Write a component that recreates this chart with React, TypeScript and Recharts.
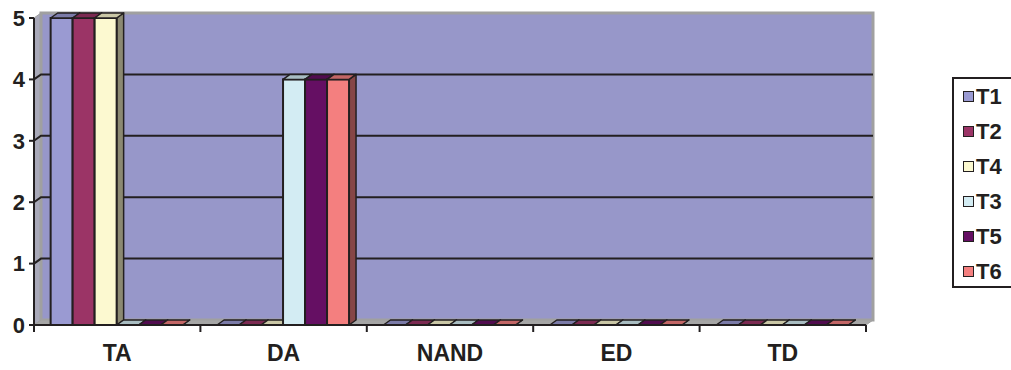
import React from 'react';
import { BarChart, Bar, XAxis, YAxis, ReferenceArea, Legend } from 'recharts';

// Categories along the x axis
const categories = ['TA', 'DA', 'NAND', 'ED', 'TD'];

// Series values, one entry per category
const t1Values = [5, 0, 0, 0, 0];
const t2Values = [5, 0, 0, 0, 0];
const t4Values = [5, 0, 0, 0, 0];
const t3Values = [0, 4, 0, 0, 0];
const t5Values = [0, 4, 0, 0, 0];
const t6Values = [0, 4, 0, 0, 0];

// Series in drawing / legend order
const seriesNames = ['T1', 'T2', 'T4', 'T3', 'T5', 'T6'];
const seriesValues = [t1Values, t2Values, t4Values, t3Values, t5Values, t6Values];
const seriesColors = ['#9a9ad2', '#9b3466', '#fcf9d0', '#d3ecf3', '#650f63', '#f47f7f'];

// Value axis ticks
const yTicks = [0, 1, 2, 3, 4, 5];

const data = categories.map((name, i) => {
  const row: Record<string, string | number> = { name };
  seriesNames.forEach((s, k) => {
    row[s] = seriesValues[k][i];
  });
  return row;
});

const INK = '#231f20';
const WALL = '#9797c9';
const FLOOR = '#a6a6a6';
const EDGE = '#a0a0a0';
const DX = 7; // depth offset to the right
const DY = 5; // depth offset upwards
const FONT = '"Liberation Sans", Arial, sans-serif';

function shade(hex: string, f: number): string {
  const n = parseInt(hex.slice(1), 16);
  const r = Math.round(((n >> 16) & 255) * f);
  const g = Math.round(((n >> 8) & 255) * f);
  const b = Math.round((n & 255) * f);
  return `rgb(${r},${g},${b})`;
}

// Back wall, side wall, floor, gridlines and category boundary ticks
const WallShape = (props: any) => {
  const { x, y, width, height } = props;
  const x0 = x;
  const x1 = x + width;
  const yTop = y;
  const yBot = y + height;
  const yMax = yTicks[yTicks.length - 1];
  const gridValues = yTicks.filter((v) => v > 0 && v < yMax);
  const nCat = categories.length;
  return (
    <g>
      <polygon
        points={`${x0},${yTop} ${x0 + DX},${yTop - DY} ${x0 + DX},${yBot - DY} ${x0},${yBot}`}
        fill="#a9a9b9"
        stroke={EDGE}
        strokeWidth={1}
      />
      <rect
        x={x0 + DX}
        y={yTop - DY}
        width={width}
        height={height}
        fill={WALL}
        stroke={EDGE}
        strokeWidth={3}
      />
      {gridValues.map((v) => {
        const yy = yBot - (height * v) / yMax;
        return (
          <polyline
            key={v}
            points={`${x0},${yy} ${x0 + DX},${yy - DY} ${x1 + DX},${yy - DY}`}
            fill="none"
            stroke={INK}
            strokeWidth={2}
          />
        );
      })}
      <polygon
        points={`${x0},${yBot} ${x0 + DX},${yBot - DY} ${x1 + DX},${yBot - DY} ${x1},${yBot}`}
        fill={FLOOR}
        stroke={EDGE}
        strokeWidth={1}
      />
      {Array.from({ length: nCat + 1 }, (_, i) => {
        const xx = x0 + (width * i) / nCat;
        return <line key={i} x1={xx} y1={yBot} x2={xx} y2={yBot + 7} stroke={INK} strokeWidth={2} />;
      })}
    </g>
  );
};

// Bar with a lit top face and a shaded right side face
const Bar3D = (props: any) => {
  const { x, y, width, height, fill } = props;
  const w = width;
  const h = Math.max(0, height);
  const top = shade(fill, 0.8);
  const side = shade(fill, 0.55);
  return (
    <g>
      <polygon
        points={`${x + w},${y} ${x + w + DX},${y - DY} ${x + w + DX},${y + h - DY} ${x + w},${y + h}`}
        fill={side}
        stroke={INK}
        strokeWidth={1.5}
        strokeLinejoin="round"
      />
      {h > 0 && (
        <rect x={x} y={y} width={w} height={h} fill={fill} stroke={INK} strokeWidth={2} />
      )}
      <polygon
        points={`${x},${y} ${x + DX},${y - DY} ${x + w + DX},${y - DY} ${x + w},${y}`}
        fill={top}
        stroke={INK}
        strokeWidth={1.5}
        strokeLinejoin="round"
      />
    </g>
  );
};

const CategoryTick = (props: any) => {
  const { x, y, payload } = props;
  return (
    <text
      x={x}
      y={y + 36}
      textAnchor="middle"
      fontFamily={FONT}
      fontWeight="bold"
      fontSize={23}
      fill={INK}
    >
      {payload.value}
    </text>
  );
};

const LegendBox = (props: any) => {
  const items = [...(props.payload || [])].sort(
    (a: any, b: any) => seriesNames.indexOf(a.value) - seriesNames.indexOf(b.value)
  );
  return (
    <div
      style={{
        border: `2px solid ${INK}`,
        background: '#ffffff',
        width: 80,
        height: 207,
        boxSizing: 'content-box',
        fontFamily: FONT,
        fontWeight: 'bold',
        fontSize: 22,
        color: INK,
      }}
    >
      {items.map((item: any) => (
        <div
          key={item.value}
          style={{ height: 35, display: 'flex', alignItems: 'center', paddingLeft: 9 }}
        >
          <span
            style={{
              display: 'inline-block',
              width: 9,
              height: 9,
              background: item.color,
              border: `1.5px solid ${INK}`,
              marginRight: 2,
            }}
          />
          <span>{item.value}</span>
        </div>
      ))}
    </div>
  );
};

export default function App() {
  return (
    <div
      style={{
        position: 'absolute',
        left: 0,
        top: 0,
        width: 1011,
        height: 370,
        overflow: 'hidden',
        background: '#ffffff',
      }}
    >
      <BarChart
        width={1011}
        height={370}
        data={data}
        margin={{ top: 18, right: 145, bottom: 0, left: 0 }}
        barGap={0}
        barCategoryGap="10%"
      >
        <ReferenceArea y1={0} y2={5} shape={WallShape} fillOpacity={1} ifOverflow="visible" />
        <XAxis
          dataKey="name"
          height={45}
          tickLine={false}
          tickSize={0}
          tickMargin={0}
          tick={CategoryTick}
          axisLine={{ stroke: INK, strokeWidth: 2 }}
        />
        <YAxis
          width={34}
          domain={[0, 5]}
          ticks={yTicks}
          tickSize={5}
          tickMargin={4}
          axisLine={{ stroke: INK, strokeWidth: 2 }}
          tickLine={{ stroke: INK, strokeWidth: 2 }}
          tick={{ fill: INK, fontFamily: FONT, fontWeight: 'bold', fontSize: 22 }}
        />
        {seriesNames.map((s, k) => (
          <Bar
            key={s}
            dataKey={s}
            fill={seriesColors[k]}
            shape={Bar3D}
            isAnimationActive={false}
          />
        ))}
        <Legend
          layout="vertical"
          align="center"
          verticalAlign="middle"
          content={LegendBox}
          wrapperStyle={{ left: 952, top: 77, width: 84 }}
        />
      </BarChart>
    </div>
  );
}
